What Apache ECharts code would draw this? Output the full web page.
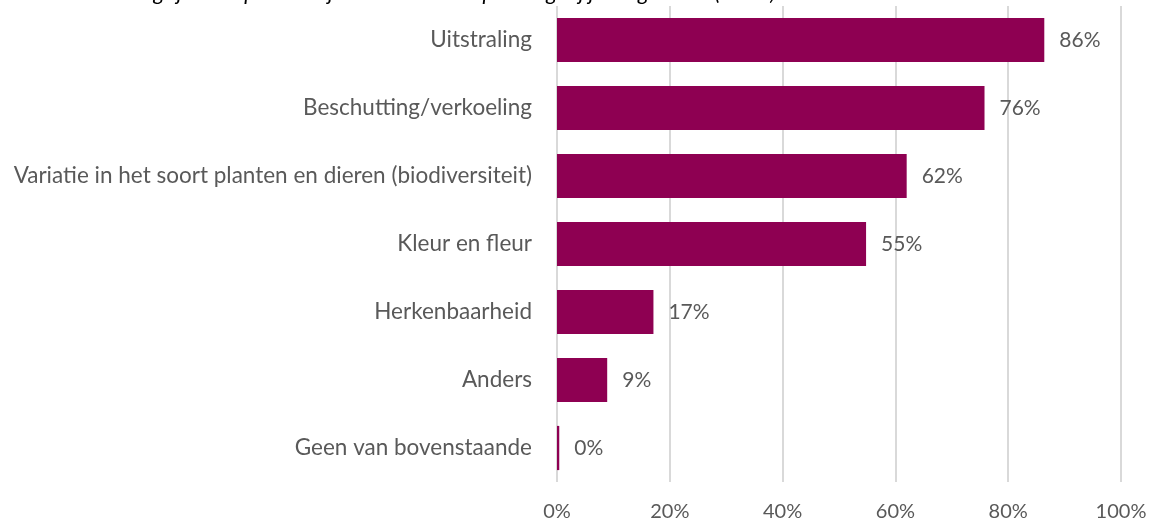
<!DOCTYPE html>
<html>
<head>
<meta charset="utf-8">
<script src="https://cdn.jsdelivr.net/npm/echarts@6/dist/echarts.min.js"></script>
<style>
  html, body { margin: 0; padding: 0; background: #fff; }
  #chart { width: 1152px; height: 522px; }
</style>
</head>
<body>
<div id="chart"></div>
<script>
// categories from top to bottom, as in the picture
const categories = [
  'Uitstraling',
  'Beschutting/verkoeling',
  'Variatie in het soort planten en dieren (biodiversiteit)',
  'Kleur en fleur',
  'Herkenbaarheid',
  'Anders',
  'Geen van bovenstaande'
];
// share of respondents, percent
const values = [86.4, 75.8, 62, 54.8, 17.1, 8.9, 0.4];
const tickLabels = ['0%', '20%', '40%', '60%', '80%', '100%'];

const titleText = 'Belangrijkste aspecten bij de keuze van beplanting bij jouw gebouw (n=29)';

const textColor = '#595959';
const fontFamily = 'Lato, "Open Sans", sans-serif';

const chart = echarts.init(document.getElementById('chart'));

chart.setOption({
  animation: false,
  title: {
    text: titleText,
    left: 97,
    top: -23,
    textStyle: {
      fontFamily: fontFamily,
      fontStyle: 'italic',
      fontWeight: 'normal',
      fontSize: 22,
      color: '#000'
    }
  },
  grid: {
    left: 557,
    right: 31,
    top: 6,
    bottom: 39,
    containLabel: false
  },
  xAxis: {
    type: 'value',
    min: 0,
    max: 100,
    interval: 20,
    axisLine: { show: false },
    axisTick: { show: false },
    splitLine: { lineStyle: { color: '#d9d9d9', width: 2 } },
    axisLabel: {
      margin: 20,
      fontFamily: fontFamily,
      fontSize: 20,
      color: textColor,
      formatter: function (v) { return tickLabels[v / 20]; }
    }
  },
  yAxis: {
    type: 'category',
    inverse: true,
    data: categories,
    axisLine: { show: false },
    axisTick: { show: false },
    axisLabel: {
      margin: 25,
      fontFamily: fontFamily,
      fontSize: 22.5,
      color: textColor
    }
  },
  series: [{
    type: 'bar',
    data: values,
    barCategoryGap: '35%',
    itemStyle: { color: '#8e0052' },
    label: {
      show: true,
      position: 'right',
      distance: 15,
      fontFamily: fontFamily,
      fontSize: 21,
      color: textColor,
      formatter: function (p) { return Math.round(p.value) + '%'; }
    }
  }]
});
</script>
</body>
</html>
